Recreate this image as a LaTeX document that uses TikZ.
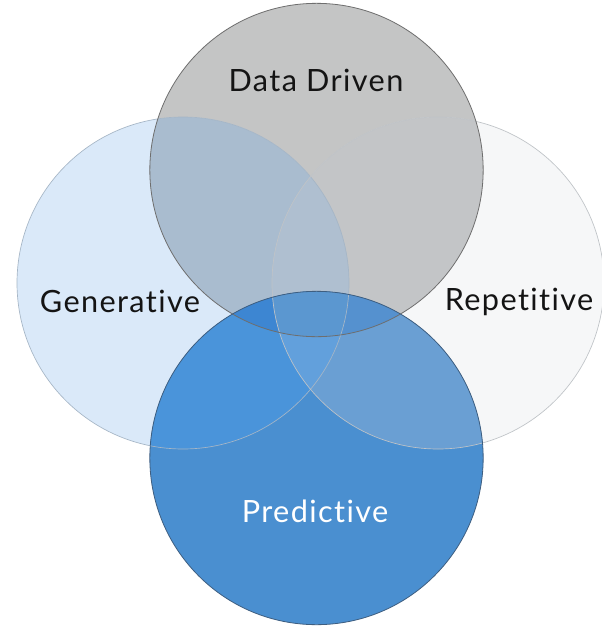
\documentclass[tikz,border=0pt]{standalone}
\usepackage{fontspec}
\setmainfont[Ligatures=NoCommon]{Lato}
\definecolor{cD}{HTML}{C4C5C5}
\definecolor{cG}{HTML}{DAE9F9}
\definecolor{cR}{HTML}{F6F7F8}
\definecolor{cP}{HTML}{4A8FD0}
\definecolor{cDG}{HTML}{A9BCCF}
\definecolor{cDR}{HTML}{C3C5C7}
\definecolor{cGP}{HTML}{4A94DA}
\definecolor{cRP}{HTML}{6A9FD3}
\definecolor{cGR}{HTML}{B6C6D6}
\definecolor{cDGR}{HTML}{AFBFD0}
\definecolor{cDGP}{HTML}{3D86D2}
\definecolor{cDRP}{HTML}{5591CF}
\definecolor{cGRP}{HTML}{62A0DC}
\definecolor{cDGRP}{HTML}{5B97D0}
\definecolor{lnD}{HTML}{6E6E6E}
\definecolor{lnP}{HTML}{3E5E80}
\definecolor{lnG}{HTML}{A6B6C6}
\definecolor{lnR}{HTML}{BFC3C7}
\definecolor{txt}{HTML}{141414}
\newcommand{\circD}{(316.5,170) circle[radius=125pt]}
\newcommand{\circG}{(183,283) circle[radius=124.5pt]}
\newcommand{\circR}{(438,283) circle[radius=124.5pt]}
\newcommand{\circP}{(316.5,458) circle[radius=125pt]}
\tikzset{
  lbl/.style={inner sep=0pt, font=\fontsize{23}{27}\selectfont\addfontfeature{LetterSpace=4.5}},
}
\begin{document}
\begin{tikzpicture}[x=0.75pt,y=-0.75pt]
\fill[white] (0,0) rectangle (601,626);
\useasboundingbox (0,0) rectangle (601,626);
% single circles
\fill[cD] \circD;
\fill[cG] \circG;
\fill[cR] \circR;
\fill[cP] \circP;
% pairs
\begin{scope}\clip \circD; \fill[cDG] \circG; \end{scope}
\begin{scope}\clip \circD; \fill[cDR] \circR; \end{scope}
\begin{scope}\clip \circG; \fill[cGR] \circR; \end{scope}
\begin{scope}\clip \circG; \fill[cGP] \circP; \end{scope}
\begin{scope}\clip \circR; \fill[cRP] \circP; \end{scope}
% triples
\begin{scope}\clip \circD; \clip \circG; \fill[cDGR] \circR; \end{scope}
\begin{scope}\clip \circD; \clip \circG; \fill[cDGP] \circP; \end{scope}
\begin{scope}\clip \circD; \clip \circR; \fill[cDRP] \circP; \end{scope}
\begin{scope}\clip \circG; \clip \circR; \fill[cGRP] \circP; \end{scope}
% quadruple
\begin{scope}\clip \circD; \clip \circG; \clip \circR; \fill[cDGRP] \circP; \end{scope}
% outlines
\draw[lnG, line width=0.5pt] \circG;
\draw[lnR, line width=0.5pt] \circR;
\draw[lnD, line width=0.6pt] \circD;
\draw[lnP, line width=0.6pt] \circP;
% labels
\node[lbl, text=txt] (dd) at (316,80) {Data Driven};
\node[lbl, text=txt] (gen) at (120,301) {Generative};
\node[lbl, text=txt] (rep) at (519,302) {Repetitive};
\node[lbl, text=white] (pred) at (315,511) {Predictive};
\end{tikzpicture}
\end{document}
